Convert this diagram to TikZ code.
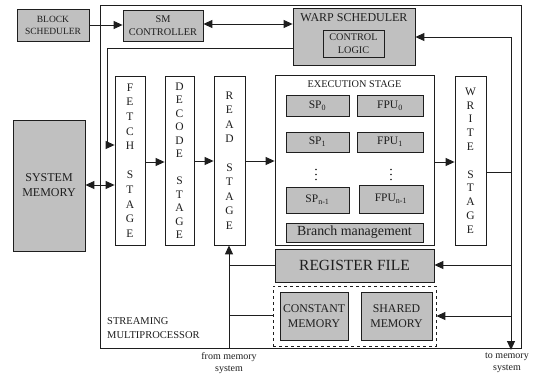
\documentclass[tikz,border=0pt]{standalone}
\usepackage{fontspec}
\setmainfont{Liberation Serif}
\usetikzlibrary{arrows.meta}
\definecolor{boxgray}{RGB}{192,192,192}
\definecolor{ink}{RGB}{30,30,30}
\begin{document}
\begin{tikzpicture}[x=1pt,y=-1pt,
  every node/.style={text=ink},
  plain/.style={draw=ink,line width=0.8pt,rectangle,inner sep=0pt,align=center},
  grey/.style={plain,fill=boxgray},
  stagebox/.style={plain,fill=white,minimum width=30pt,minimum height=169pt,
     font=\fontsize{11.5}{14}\selectfont},
  link/.style={draw=ink,line width=1pt},
  arr/.style={link,-{Triangle[length=9pt,width=8pt]}},
  biarr/.style={link,{Triangle[length=9pt,width=8pt]}-{Triangle[length=9pt,width=8pt]}},
  dot/.style={fill=ink,circle,inner sep=0pt,minimum size=1.8pt}]
\useasboundingbox (0,0) rectangle (533,375);

% streaming multiprocessor frame
\node[plain,minimum width=421pt,minimum height=343pt] (sm) at (310.5,176.5) {};
\node[anchor=north west,align=left,font=\fontsize{10.5}{14}\selectfont,inner sep=0pt] (smlabel) at (107,317)
  {STREAMING\\MULTIPROCESSOR};

% scheduler blocks
\node[grey,minimum width=72pt,minimum height=32pt,font=\fontsize{9.5}{12}\selectfont] (bs) at (53,25) {BLOCK\\SCHEDULER};
\node[grey,minimum width=80pt,minimum height=31pt,font=\fontsize{10.3}{12.5}\selectfont] (smc) at (163,25.5) {SM\\CONTROLLER};
\node[grey,minimum width=122pt,minimum height=57pt] (ws) at (354,36.5) {};
\node[anchor=north,font=\fontsize{12}{14}\selectfont,inner sep=0pt] (wslabel) at (354,13) {WARP SCHEDULER};
\node[grey,minimum width=61pt,minimum height=27pt,font=\fontsize{10.2}{12.5}\selectfont] (cl) at (353.5,43.5) {CONTROL\\LOGIC};

% system memory
\node[grey,minimum width=72pt,minimum height=131pt,font=\fontsize{12}{15}\selectfont] (sysmem) at (49,185.5) {SYSTEM\\MEMORY};

% pipeline stages
\node[stagebox,font=\fontsize{11.5}{14.6}\selectfont] (fetch) at (130,160.5)
  {F\\E\\T\\C\\H\\\mbox{}\\S\\T\\A\\G\\E};
\node[stagebox,minimum width=29pt,font=\fontsize{11.5}{13.5}\selectfont] (decode) at (179.5,160.5)
  {D\\E\\C\\O\\D\\E\\\mbox{}\\S\\T\\A\\G\\E};
\node[stagebox,minimum width=31pt,font=\fontsize{11.5}{14.4}\selectfont] (read) at (229.5,160.5)
  {R\\E\\A\\D\\\mbox{}\\S\\T\\A\\G\\E};
\node[stagebox,minimum width=31pt,font=\fontsize{11.5}{13.8}\selectfont] (write) at (470.5,160.5)
  {W\\R\\I\\T\\E\\\mbox{}\\S\\T\\A\\G\\E};

% execution stage
\node[plain,minimum width=159pt,minimum height=170pt] (exec) at (354.5,160) {};
\node[anchor=north,font=\fontsize{10.3}{12}\selectfont,inner sep=0pt] (execlabel) at (354.5,80) {EXECUTION STAGE};
\tikzset{unit/.style={grey,font=\fontsize{11.5}{13}\selectfont}}
\node[unit,minimum width=63pt,minimum height=21pt] (sp0) at (317.5,105.5) {SP\textsubscript{0}};
\node[unit,minimum width=66pt,minimum height=21pt] (fpu0) at (390,105.5) {FPU\textsubscript{0}};
\node[unit,minimum width=63pt,minimum height=20pt] (sp1) at (317.5,142) {SP\textsubscript{1}};
\node[unit,minimum width=66pt,minimum height=20pt] (fpu1) at (390,142) {FPU\textsubscript{1}};
\node[unit,minimum width=63pt,minimum height=26pt] (spn) at (317.5,200) {SP\textsubscript{n-1}};
\node[unit,minimum width=64pt,minimum height=28pt] (fpun) at (391,199) {FPU\textsubscript{n-1}};
% vertical ellipses between the unit rows
\foreach \yy [count=\i] in {169.5,174.5,179.5} {
  \node[dot] (dl\i) at (316,\yy) {};
  \node[dot] (dr\i) at (391,\yy) {};
}
\node[grey,minimum width=137pt,minimum height=19pt,font=\fontsize{13.9}{15}\selectfont] (branch) at (354.5,232.5) {Branch management};

% register file and on-chip memories
\node[grey,minimum width=159pt,minimum height=33pt,font=\fontsize{15.5}{17}\selectfont] (regfile) at (354.5,265.5) {REGISTER FILE};
\node[plain,dashed,minimum width=163pt,minimum height=60pt] (onchip) at (354.5,316) {};
\node[grey,minimum width=68pt,minimum height=48pt,font=\fontsize{11.8}{15}\selectfont] (const) at (314,316) {CONSTANT\\MEMORY};
\node[grey,minimum width=71pt,minimum height=48pt,font=\fontsize{11.8}{15}\selectfont] (shared) at (396.5,316) {SHARED\\MEMORY};

% memory system labels
\node[font=\fontsize{10}{12}\selectfont,align=center,inner sep=0pt] (frommem) at (229,363) {from memory\\system};
\node[font=\fontsize{10}{12}\selectfont,align=center,inner sep=0pt] (tomem) at (507,363) {to memory\\system};

% bus coordinates
\coordinate (wsret) at (107,145);
\coordinate (busTop) at (511,37);
\coordinate (busBot) at (511,350);
\coordinate (inBot) at (229,348);

% control connections
\draw[arr] (bs.east |- 0,25) -- (smc.west |- 0,25);
\draw[biarr] (smc.east |- 0,24) -- (ws.west |- 0,24);
\draw[link] (ws.west |- 0,48) -| (wsret);
\draw[arr] (wsret) -- (fetch.west |- wsret);
\draw[biarr] (sysmem.east |- 0,185) -- (fetch.west |- 0,185);

% pipeline flow
\draw[arr] (fetch.east |- 0,162) -- (decode.west |- 0,162);
\draw[arr] (decode.east |- 0,161) -- (read.west |- 0,161);
\draw[arr] (read.east |- 0,161) -- (exec.west |- 0,161);
\draw[arr] (exec.east |- 0,162) -- (write.west |- 0,162);

% write-back bus
\draw[arr] (busTop) -- (ws.east |- busTop);
\draw[arr] (busTop) -- (busBot);
\draw[link] (write.east |- 0,172) -- (busTop |- 0,172);
\draw[arr] (busTop |- 0,265) -- (regfile.east |- 0,265);
\draw[arr] (busTop |- 0,316) -- (onchip.east |- 0,316);

% incoming memory bus
\draw[arr] (inBot) -- (read.south -| inBot);
\draw[link] (inBot |- 0,265) -- (regfile.west |- 0,265);
\draw[link] (inBot |- 0,315) -- (onchip.west |- 0,315);
\end{tikzpicture}
\end{document}
